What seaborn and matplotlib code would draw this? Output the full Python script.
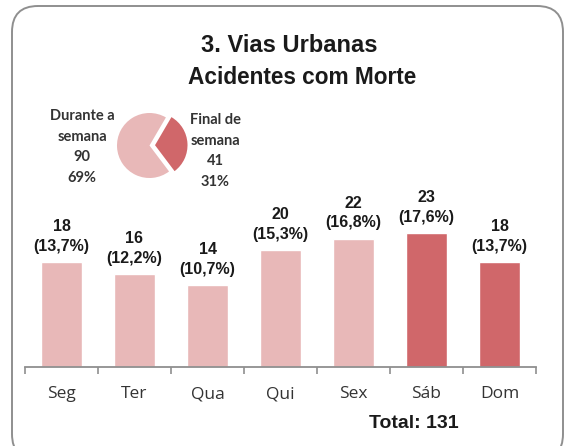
import numpy as np
import pandas as pd
import matplotlib.pyplot as plt
import seaborn as sns
from matplotlib.patches import FancyBboxPatch
from matplotlib.transforms import IdentityTransform

# data
days = ["Seg", "Ter", "Qua", "Qui", "Sex", "Sáb", "Dom"]
deaths = [18, 16, 14, 20, 22, 23, 18]
pct_labels = ["13,7%", "12,2%", "10,7%", "15,3%", "16,8%", "17,6%", "13,7%"]
pie_names = ["Final de\nsemana", "Durante a\nsemana"]
pie_values = [41, 90]
pie_pct = ["31%", "69%"]
total = 131

light = "#E8B8B8"
dark = "#D0676A"
bar_cols = [light] * 5 + [dark] * 2

sns.set_style("white")
fig = plt.figure(figsize=(5.68, 4.46), dpi=100)

# rounded frame around the whole chart
frame = FancyBboxPatch((12, -14), 551, 454, boxstyle="round,pad=0,rounding_size=26",
                       transform=IdentityTransform(), fill=False, ec="#8f8f8f", lw=1.4)
fig.add_artist(frame)

fig.text(0.51, 0.899, "3. Vias Urbanas", ha="center", va="center", fontsize=17,
         fontweight="bold", family="Liberation Sans", color="#1a1a1a")
fig.text(0.532, 0.827, "Acidentes com Morte", ha="center", va="center", fontsize=16.3,
         fontweight="bold", family="Liberation Sans", color="#1a1a1a")

# bars
ax = fig.add_axes([25 / 568, 79 / 446, 511 / 568, 175 / 446])
df = pd.DataFrame({"dia": days, "mortes": deaths})
sns.barplot(data=df, x="dia", y="mortes", hue="dia", palette=bar_cols, legend=False,
            width=0.56, saturation=1, ax=ax)
ax.set_xlim(-0.5, 6.5)
ax.set_ylim(0, 30)
for i, (v, p) in enumerate(zip(deaths, pct_labels)):
    ax.text(i, v + 1.4, f"{v}\n({p})", ha="center", va="bottom", fontsize=11.5,
            fontweight="bold", family="Liberation Sans", color="#1a1a1a", linespacing=1.4)
sns.despine(ax=ax, left=True, top=True, right=True)
ax.spines["bottom"].set_color("#8f8f8f")
ax.spines["bottom"].set_linewidth(1.3)
ax.set_yticks([])
ax.set_xlabel("")
ax.set_ylabel("")
ax.set_xticks(np.arange(-0.5, 7, 1), minor=True)
ax.tick_params(axis="x", which="minor", length=5, color="#8f8f8f", width=1.2, direction="out", bottom=True)
ax.tick_params(axis="x", which="major", length=0, pad=14, labelsize=12.5, labelcolor="#333333")
for t in ax.get_xticklabels():
    t.set_family("Open Sans")

fig.text(414 / 568, 1 - 424 / 446, f"Total: {total}", ha="center", va="center",
         fontsize=14, fontweight="bold", family="Liberation Sans", color="#1a1a1a")

# small pie
size = 2.5 * 32.5
cx, cy = 149.5, 446 - 145.5
pax = fig.add_axes([(cx - size / 2) / 568, (cy - size / 2) / 446, size / 568, size / 446])
pax.pie(pie_values, colors=[dark, light], startangle=-53, explode=[0.17, 0],
        wedgeprops=dict(linewidth=0))
pax.set_xlim(-1.25, 1.25)
pax.set_ylim(-1.25, 1.25)
pax.set_aspect("equal")

fig.text(82 / 568, 1 - 147 / 446, f"{pie_names[1]}\n{pie_values[1]}\n{pie_pct[1]}",
         ha="center", va="center", fontsize=10.5, fontweight="bold", family="Lato",
         color="#333333", linespacing=1.6)
fig.text(215 / 568, 1 - 151 / 446, f"{pie_names[0]}\n{pie_values[0]}\n{pie_pct[0]}",
         ha="center", va="center", fontsize=10.5, fontweight="bold", family="Lato",
         color="#333333", linespacing=1.6)

fig.savefig("out.png", dpi=100)
